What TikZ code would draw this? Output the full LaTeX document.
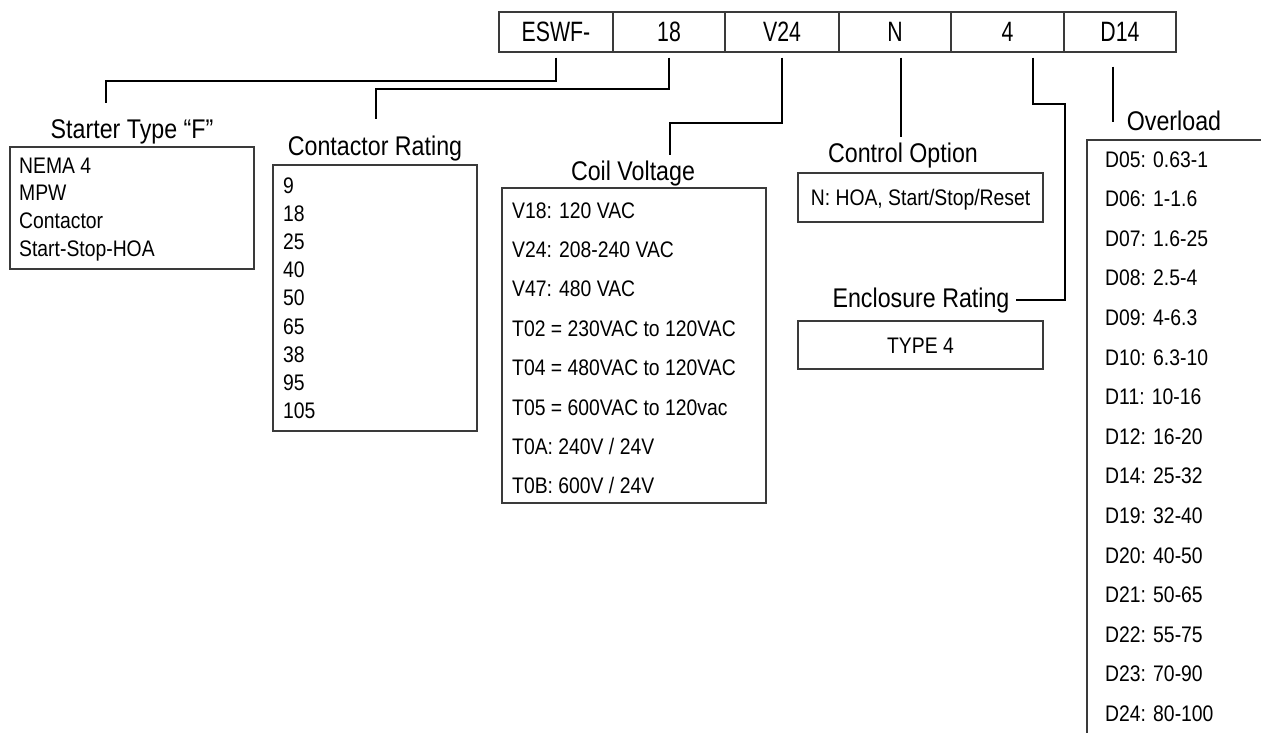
\documentclass[tikz,border=0pt]{standalone}
\usepackage{fontspec}
\setmainfont{Liberation Sans}[FakeStretch=0.86]
\newfontfamily\topfont{Liberation Sans}[FakeStretch=0.76]
\definecolor{boxgray}{HTML}{3A3A3A}
\tikzset{
  cell/.style={draw=boxgray, line width=1.2pt, minimum height=40pt, inner sep=0pt,
               font=\topfont\fontsize{28}{28}\selectfont},
  ttl/.style={anchor=base, inner sep=0pt, font=\fontsize{27}{27}\selectfont},
  itm/.style={anchor=west, inner sep=0pt, text height=16pt, text depth=0pt,
              font=\fontsize{22.5}{22.5}\selectfont},
  frame/.style={draw=boxgray, line width=1.2pt, inner sep=0pt},
  conn/.style={line width=2.2pt, draw=black}
}
\begin{document}
\begin{tikzpicture}[x=1pt,y=-1pt]
\useasboundingbox (0,0) rectangle (1261,732);
\clip (0,0) rectangle (1261,732);

% top code row
\node[cell, minimum width=114pt] (c1) at (556,32)    {ESWF-};
\node[cell, minimum width=112pt] (c2) at (669,32)    {18};
\node[cell, minimum width=114pt] (c3) at (782,32)    {V24};
\node[cell, minimum width=112pt] (c4) at (895,32)    {N};
\node[cell, minimum width=113pt] (c5) at (1007.5,32) {4};
\node[cell, minimum width=112pt] (c6) at (1120,32)   {D14};

% titles
\node[ttl] (t1) at (132,138)  {Starter Type “F”};
\node[ttl] (t2) at (375,155)  {Contactor Rating};
\node[ttl] (t3) at (633,180)  {Coil Voltage};
\node[ttl] (t4) at (903,162)  {Control Option};
\node[ttl] (t5) at (921,307)  {Enclosure Rating};
\node[ttl] (t6) at (1174,130) {Overload};

% boxes
\node[frame, minimum width=244pt, minimum height=122pt] (b1) at (132,208) {};
\node[frame, minimum width=204pt, minimum height=266pt] (b2) at (375,298) {};
\node[frame, minimum width=264pt, minimum height=315pt] (b3) at (634,345.5) {};
\node[frame, minimum width=245pt, minimum height=49pt]  (b4) at (920.5,197.5) {};
\node[frame, minimum width=245pt, minimum height=48pt]  (b5) at (920.5,345) {};
\node[frame, minimum width=200pt, minimum height=660pt] (b6) at (1187,470) {};

% box texts
\foreach \t [count=\i from 0] in {NEMA 4, MPW, Contactor, Start-Stop-HOA}
  \node[itm] (sa\i) at (19,165+27.7*\i) {\t};
\foreach \t [count=\i from 0] in {9,18,25,40,50,65,38,95,105}
  \node[itm] (cr\i) at (283,185+28.2*\i) {\t};
\foreach \t [count=\i from 0] in {V18: 120 VAC, V24: 208-240 VAC, V47: 480 VAC,
    T02 = 230VAC to 120VAC, T04 = 480VAC to 120VAC, T05 = 600VAC to 120vac,
    T0A: 240V / 24V, T0B: 600V / 24V}
  \node[itm] (cv\i) at (512,210+39.4*\i) {\t};
\node[itm, anchor=center] (co) at (b4.center) {N: HOA, Start/Stop/Reset};
\node[itm, anchor=center] (er) at (b5.center) {TYPE 4};
\foreach \t [count=\i from 0] in {D05: 0.63-1, D06: 1-1.6, D07: 1.6-25, D08: 2.5-4,
    D09: 4-6.3, D10: 6.3-10, D11: 10-16, D12: 16-20, D14: 25-32, D19: 32-40,
    D20: 40-50, D21: 50-65, D22: 55-75, D23: 70-90, D24: 80-100}
  \node[itm] (ov\i) at (1105,159+39.6*\i) {\t};

% connector corners and ends
\coordinate (k1) at (106,81);   \coordinate (s1) at (106,103);
\coordinate (k2) at (376,89);   \coordinate (s2) at (376,119);
\coordinate (k3) at (670,123);  \coordinate (s3) at (670,155);
\coordinate (s4) at (901,137);
\coordinate (k5) at (1065,104);
\coordinate (s6) at (1113,122);

% connectors
\draw[conn] ([yshift=-5pt]c1.south) |- (k1) -- (s1);
\draw[conn] ([yshift=-5pt]c2.south) |- (k2) -- (s2);
\draw[conn] ([yshift=-5pt]c3.south) |- (k3) -- (s3);
\draw[conn] ([xshift=6pt,yshift=-5pt]c4.south) -- (s4);
\draw[conn] ([xshift=25.5pt,yshift=-5pt]c5.south) |- (k5) |- ([xshift=6pt]t5.east);
\draw[conn] ([xshift=-7pt,yshift=-14pt]c6.south) -- (s6);
\end{tikzpicture}
\end{document}
